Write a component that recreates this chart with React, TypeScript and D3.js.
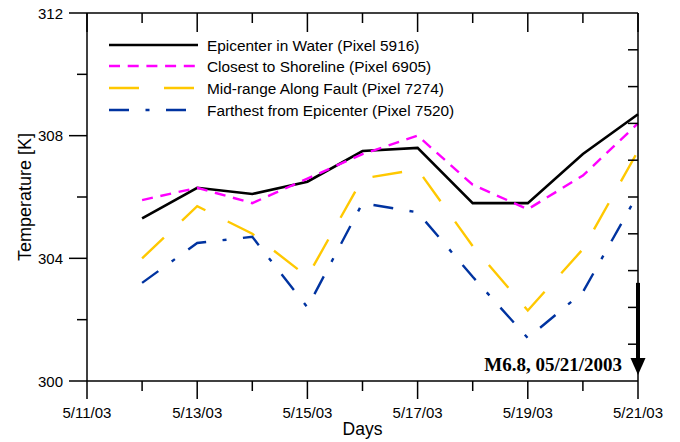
import React from "react";
import * as d3 from "d3";

const days = ["2003-05-12","2003-05-13","2003-05-14","2003-05-15","2003-05-16","2003-05-17","2003-05-18","2003-05-19","2003-05-20","2003-05-21"];
const epicenter = [305.3, 306.3, 306.1, 306.5, 307.5, 307.6, 305.8, 305.8, 307.4, 308.7];
const shoreline = [305.9, 306.3, 305.8, 306.6, 307.4, 308.0, 306.4, 305.6, 306.7, 308.4];
const midrange = [304.0, 305.7, 304.8, 303.4, 306.6, 306.9, 304.4, 302.3, 304.3, 307.5];
const farthest = [303.2, 304.5, 304.7, 302.4, 305.8, 305.5, 303.4, 301.4, 302.9, 306.1];
const seriesNames = [
  "Epicenter in Water (Pixel 5916)",
  "Closest to Shoreline (Pixel 6905)",
  "Mid-range Along Fault (Pixel 7274)",
  "Farthest from Epicenter (Pixel 7520)",
];
const yTicks = [300, 304, 308, 312];
const yMinorTicks = [302, 306, 310];
const quakeLabel = "M6.8, 05/21/2003";
const quakeDate = "2003-05-21";
const quakeTop = 303.2;

const W = 680, H = 442;
const L = 87, R = 638, T = 13, B = 381;

export default function App() {
  const parse = d3.timeParse("%Y-%m-%d");
  const x = d3.scaleTime().domain([parse("2003-05-11")!, parse("2003-05-21")!]).range([L, R]);
  const y = d3.scaleLinear().domain([300, 312]).range([B, T]);
  const fmt = d3.timeFormat("%-m/%d/%y");
  const allDays = x.ticks(d3.timeDay.every(1)!);
  const dates = days.map((d) => parse(d)!);

  const styles = [
    { color: "#000000", dash: "none", width: 2.6 },
    { color: "#ff00ff", dash: "11,7.7", width: 2.4 },
    { color: "#ffc800", dash: "30,25", width: 2.4 },
    { color: "#0033a0", dash: "20,16.5,4,16.5", width: 2.4 },
  ];
  const data = [epicenter, shoreline, midrange, farthest];
  const line = d3.line<number>().x((_, i) => x(dates[i])).y((v) => y(v));

  const rightTicks = d3.range(1, 10).map((i) => T + ((B - T) * i) / 10);
  const font = "Arial, 'Liberation Sans', sans-serif";
  const qx = x(parse(quakeDate)!);

  return (
    <svg width={W} height={H} style={{ display: "block", position: "absolute", left: 0, top: 0 }}>
      <rect width={W} height={H} fill="#fff" />
      {data.map((vals, i) => (
        <path key={i} d={line(vals)!} fill="none" stroke={styles[i].color} strokeWidth={styles[i].width}
          strokeDasharray={styles[i].dash} strokeLinejoin="miter" />
      ))}
      {/* axes frame */}
      <g stroke="#000" strokeWidth={1.5} fill="none">
        <line x1={L} y1={T} x2={R} y2={T} />
        <line x1={L} y1={B} x2={R} y2={B} />
        <line x1={L} y1={T} x2={L} y2={B} />
        <line x1={R} y1={T} x2={R} y2={B} />
        {allDays.map((d, i) => {
          const major = i % 2 === 0;
          const xx = x(d);
          return (
            <g key={i}>
              <line x1={xx} y1={B} x2={xx} y2={B + (major ? 18 : 10)} />
              <line x1={xx} y1={T} x2={xx} y2={T + (major ? 19 : 10)} />
            </g>
          );
        })}
        {yTicks.map((t) => (
          <line key={t} x1={L - 18} y1={y(t)} x2={L} y2={y(t)} />
        ))}
        {yMinorTicks.map((t) => (
          <line key={t} x1={L - 10} y1={y(t)} x2={L} y2={y(t)} />
        ))}
        {rightTicks.map((t, i) => (
          <line key={i} x1={R - 10} y1={t} x2={R} y2={t} />
        ))}
      </g>
      <g fontFamily={font} fontSize={15} fill="#000">
        {yTicks.map((t) => (
          <text key={t} x={63} y={y(t) + 5.5} textAnchor="end">{t}</text>
        ))}
        {allDays.filter((_, i) => i % 2 === 0).map((d, i) => (
          <text key={i} x={x(d)} y={418} textAnchor="middle">{fmt(d)}</text>
        ))}
        <text x={(L + R) / 2} y={435} textAnchor="middle" fontSize={17.5}>Days</text>
        <text transform={`translate(31,${(T + B) / 2}) rotate(-90)`} textAnchor="middle" fontSize={18}>Temperature [K]</text>
      </g>
      {/* legend */}
      <g fontFamily={font} fontSize={15.4}>
        {seriesNames.map((n, i) => {
          const yy = [45, 66, 88, 110][i];
          return (
            <g key={i}>
              <line x1={109} x2={198} y1={yy} y2={yy} stroke={styles[i].color} strokeWidth={styles[i].width}
                strokeDasharray={styles[i].dash} />
              <text x={207} y={yy + 5.5}>{n}</text>
            </g>
          );
        })}
      </g>
      {/* earthquake arrow */}
      <line x1={qx} x2={qx} y1={y(quakeTop)} y2={360} stroke="#000" strokeWidth={4} />
      <path d={`M${qx - 7.5},358 L${qx + 7.5},358 L${qx},375 Z`} fill="#000" />
      <text x={622} y={371} textAnchor="end" fontFamily="'Liberation Serif', 'Times New Roman', serif" fontWeight="bold" fontSize={19}>{quakeLabel}</text>
    </svg>
  );
}
